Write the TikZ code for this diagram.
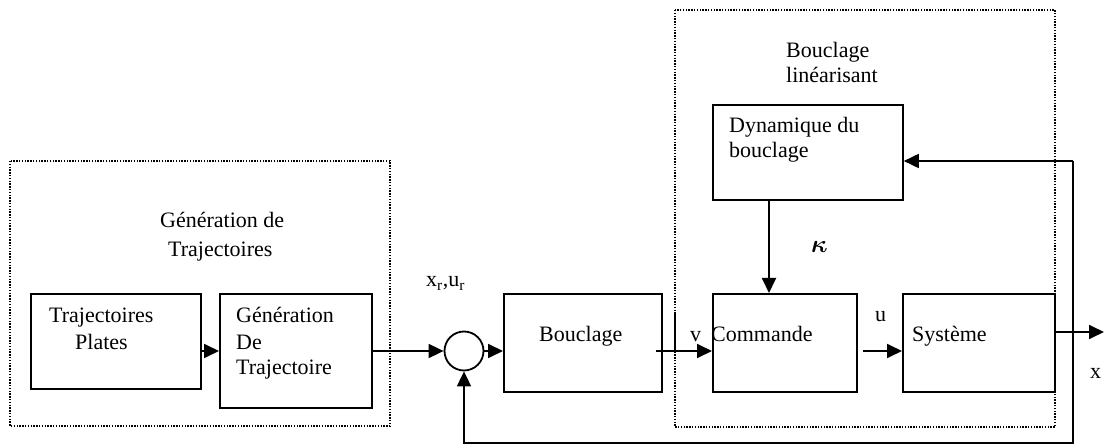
\documentclass[tikz,border=0pt]{standalone}
\usepackage{fontspec}
\setmainfont{Liberation Serif}
\usepackage{bm}
\usetikzlibrary{arrows.meta,calc}

\begin{document}
\begin{tikzpicture}[x=1pt,y=-1pt,
  font=\fontsize{22}{28}\selectfont,
  blk/.style={draw,line width=1.8pt,inner sep=0pt,anchor=north west},
  grp/.style={draw,line width=1.4pt,dash pattern=on 1.4pt off 1.4pt},
  lbl/.style={anchor=base west,inner sep=0pt},
  arr/.style={line width=1.8pt,-{Triangle[length=15pt,width=14pt]}},
  wire/.style={line width=1.8pt}]
\useasboundingbox (0,0) rectangle (1104,446);

% dotted group frames
\draw[grp] (10,161) rectangle (390,426);
\draw[grp] (675,10) rectangle (1055,427);
\node[lbl] (ggen) at (160,228) {Génération de};
\node[lbl] (ggen2) at (168,257) {Trajectoires};
\node[lbl] (glin) at (786,58) {Bouclage};
\node[lbl] (glin2) at (786,83) {linéarisant};

% blocks
\node[blk,minimum width=170pt,minimum height=95pt] (tp) at (30,293) {};
\node[blk,minimum width=152pt,minimum height=114pt] (gt) at (219,293) {};
\node[blk,minimum width=158pt,minimum height=98pt] (bc) at (503,293) {};
\node[blk,minimum width=190pt,minimum height=95pt] (dyn) at (712,104) {};
\node[blk,minimum width=144pt,minimum height=98pt] (cmd) at (712,293) {};
\node[blk,minimum width=152pt,minimum height=98pt] (sys) at (902,293) {};
\node[draw,circle,line width=1.8pt,minimum size=39pt,inner sep=0pt] (sum) at (464,351) {};

% block texts
\node[lbl] (t1) at (49,323) {Trajectoires};
\node[lbl] (t2) at (75,350) {Plates};
\node[lbl] (g1) at (236,323) {Génération};
\node[lbl] (g2) at (236,350) {De};
\node[lbl] (g3) at (236,375) {Trajectoire};
\node[lbl] (b1) at (539,342) {Bouclage};
\node[lbl] (d1) at (729,133) {Dynamique du};
\node[lbl] (d2) at (729,158) {bouclage};
\node[lbl] (c1) at (711,342) {Commande};
\node[lbl] (s1) at (912,342) {Système};

% signal labels
\node[lbl] (xr) at (426,287) {x\textsubscript{r},u\textsubscript{r}};
\node[lbl] (lv) at (690,342) {v};
\node[lbl] (lu) at (875,322) {u};
\node[lbl] (lx) at (1090,379) {x};
\node[lbl,font=\fontsize{30}{30}\selectfont] (lk) at (811,253) {$\bm{\kappa}$};

% connections
\coordinate (uin) at (863,351);
\coordinate (xout) at (1104,332);
\coordinate (jtop) at (1073,161);
\coordinate (jbot) at (1073,443);
\coordinate (tick) at (675,312);

\draw[arr] (tp.east |- 0,351) -- (gt.west |- 0,351);
\draw[arr] (gt.east |- 0,351) -- (sum.west);
\draw[arr] (sum.east) -- (bc.west |- sum.east);
\draw[arr] (656,351) -- (cmd.west |- 0,351);
\draw[wire] (tick) -- (tick |- 0,351);
\draw[arr] (769,199) -- (769,293);
\draw[arr] (uin) -- (sys.west |- uin);
\draw[arr] (sys.east |- xout) -- (xout);
\draw[arr] (jtop) -- (dyn.east |- jtop);
\draw[arr] (jtop) -- (jbot) -| (sum.south);
\end{tikzpicture}
\end{document}
